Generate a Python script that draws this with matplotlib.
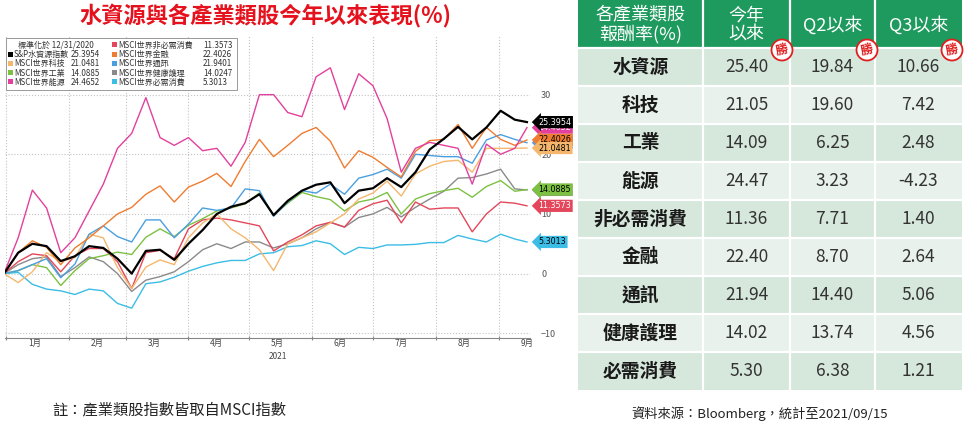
import matplotlib.pyplot as plt
import matplotlib.dates as mdates
import matplotlib.ticker as mticker
import numpy as np
import pandas as pd
from matplotlib.patches import Rectangle, Circle

plt.rcParams['font.family'] = ['Noto Sans CJK TC', 'DejaVu Sans']

# 週資料（2020/12/31 標準化為 0），最後一點為 2021/09/15
dates = list(pd.date_range('2020-12-31', periods=37, freq='7D')) + [pd.Timestamp('2021-09-15')]

water = [0, 3.5, 5, 4.6, 2.1, 2.9, 4.6, 4.3, 2.5, 0, 3.8, 4.0, 2.3, 5, 7.3, 10, 11.2, 11.8, 13.3,
         9.8, 12.2, 13.9, 14.9, 15.3, 11.8, 13.9, 14.3, 16, 14.5, 17, 20.8, 22.6, 24.6, 22.5, 24.5,
         27.3, 25.8, 25.40]
tech = [0, -1.5, 0.3, 3.5, 2, 2.7, 6.6, 6, 1, -2.5, 1.1, 2.3, 1.5, 6, 8.5, 10, 7.5, 6, 4, 0.5, 5,
        6, 7, 8.5, 10, 12.5, 13.5, 15.5, 13, 16.7, 18, 18.8, 19, 17, 21, 21, 21, 21.05]
industrial = [0, 0.5, 1.5, 1, -2, 0.5, 2.5, 3, 3.6, 3.2, 6.1, 7.5, 6.2, 8.1, 9.2, 10.5, 11, 11.7,
              13.5, 9.8, 11.8, 13.6, 12.9, 12.4, 10.5, 12, 12.5, 13.6, 10, 12.5, 13.4, 13.9, 14.3,
              12.8, 14.6, 15.6, 13.8, 14.09]
energy = [0, 6, 14, 11, 3.5, 6, 10.5, 15, 21, 23.5, 29.5, 22.8, 21.5, 22.8, 20.6, 21, 18, 22, 30,
          30, 27, 26.3, 33, 34.5, 27.5, 33.5, 31.5, 26, 17, 21, 22, 21.5, 21, 15, 21.7, 20, 21, 24.47]
discretionary = [0, 2, 3.3, 3, 0.3, 3, 4.2, 4.2, 2, -2.5, 3.5, 3.9, 2.5, 7.5, 9, 9.3, 9, 8.5, 8,
                 3.8, 5.3, 6.5, 8, 8.6, 7.8, 10.6, 11.7, 12.3, 8.5, 12, 10.8, 11, 11, 7, 10, 12,
                 11.8, 11.36]
financials = [0, 3.5, 5.5, 4.4, 1.5, 4.3, 6, 8, 10, 11.1, 13.3, 14.7, 12, 14.5, 15.5, 16.8, 14.6,
              18.8, 22.5, 19.6, 21.5, 23.5, 24.5, 22.2, 17.7, 20.6, 19.5, 17.8, 16.2, 20.5, 22.3,
              22.5, 25, 21, 24.5, 22.5, 21.5, 22.40]
comm = [0, 0.5, 1.5, 2.5, -0.7, 1.6, 6.6, 8, 6.2, 5.3, 9, 9, 6, 8.3, 11, 10.6, 11, 14.2, 13.9,
        9.6, 12, 13.9, 13.5, 15, 13.3, 16, 16.6, 17.5, 16, 20, 19.8, 19.6, 19.6, 18.5, 22.4, 23.3,
        22.5, 21.94]
health = [0, 1.5, 2.5, 2.8, -0.5, 1, 2.8, 2, 0, -3, -1.1, -0.5, 0.3, 2, 4, 5, 4.2, 5.3, 5.3, 4.3,
          5, 6, 7.5, 8.6, 7.8, 9.4, 10, 11.1, 9.5, 11.1, 12.5, 13.8, 16, 16.1, 16.7, 17.5, 14.2,
          14.02]
staples = [0, 0.2, -1.8, -2.6, -2.9, -3.5, -2.6, -2.9, -5, -5.8, -1.7, -1.4, -0.6, 0.4, 1.2, 1.8,
           2.2, 2.2, 3.3, 3.5, 4.5, 4.7, 5.5, 5, 3.2, 4.4, 4.2, 4.8, 4.8, 4.9, 5.2, 5.2, 6.4, 5.8,
           5.3, 6.6, 5.8, 5.30]

legend_left = ['S&P水資源指數', 'MSCI世界科技', 'MSCI世界工業', 'MSCI世界能源']
legend_right = ['MSCI世界非必需消費', 'MSCI世界金融', 'MSCI世界通訊', 'MSCI世界健康護理', 'MSCI世界必需消費']
last_left = ['25.3954', '21.0481', '14.0885', '24.4652']
last_right = ['11.3573', '22.4026', '21.9401', '14.0247', '5.3013']

# 表格
row_names = ['水資源', '科技', '工業', '能源', '非必需消費', '金融', '通訊', '健康護理', '必需消費']
ytd = ['25.40', '21.05', '14.09', '24.47', '11.36', '22.40', '21.94', '14.02', '5.30']
since_q2 = ['19.84', '19.60', '6.25', '3.23', '7.71', '8.70', '14.40', '13.74', '6.38']
since_q3 = ['10.66', '7.42', '2.48', '-4.23', '1.40', '2.64', '5.06', '4.56', '1.21']

# 顏色 / 繪圖順序
series = [
    ('staples', staples, '#3bbde6', 'k', 5.3013, 3),
    ('health', health, '#8a8a8a', 'white', 14.0247, 3),
    ('discretionary', discretionary, '#e4475b', 'white', 11.3573, 6),
    ('industrial', industrial, '#7cc142', 'k', 14.0885, 6),
    ('tech', tech, '#f5b76e', 'k', 21.0481, 6),
    ('comm', comm, '#4a9fe0', 'white', 21.9401, 3),
    ('financials', financials, '#ee7d31', 'k', 22.4026, 5),
    ('energy', energy, '#e2409c', 'white', 24.4652, 4),
    ('water', water, '#000000', 'white', 25.3954, 7),
]
colors = {name: c for name, _, c, _, _, _ in series}
left_colors = [colors['water'], colors['tech'], colors['industrial'], colors['energy']]
right_colors = [colors['discretionary'], colors['financials'], colors['comm'], colors['health'],
                colors['staples']]

fig = plt.figure(figsize=(9.71, 4.24), dpi=100)
ax = fig.add_axes([5 / 971, 1 - 338 / 424, 525 / 971, (338 - 35) / 424])

for name, vals, c, tc, last, z in series:
    lw = 1.6 if name == 'water' else 1.0
    ax.plot(dates, vals, color=c, lw=lw, zorder=3 if name == 'water' else 2)
    ax.annotate(f'{last:.4f}', xy=(1.0, last), xycoords=('axes fraction', 'data'),
                xytext=(6, 0), textcoords='offset points', ha='left', va='center',
                fontsize=5.8, color=tc, family=['DejaVu Sans'], annotation_clip=False,
                zorder=z + 10,
                bbox=dict(boxstyle='larrow,pad=0.2', fc=c, ec='none'))

ax.set_xlim(pd.Timestamp('2020-12-31 12:00'), pd.Timestamp('2021-09-16 12:00'))
ax.set_ylim(-10.8, 40)
ax.xaxis.set_major_locator(mdates.MonthLocator())
ax.xaxis.set_major_formatter(mticker.NullFormatter())
ax.xaxis.set_minor_locator(mdates.MonthLocator(bymonthday=15))
ax.xaxis.set_minor_formatter(mticker.FuncFormatter(lambda v, p: f'{mdates.num2date(v).month}月'))
ax.tick_params(axis='x', which='major', length=3, color='#888', direction='inout')
ax.tick_params(axis='x', which='minor', length=0, labelsize=6, labelcolor='#444', pad=1)
ax.yaxis.tick_right()
ax.set_yticks([-10, 0, 10, 20, 30])
ax.tick_params(axis='y', length=0, labelsize=6.5, labelcolor='#555', pad=8)
ax.grid(True, which='major', ls=':', color='#c4c4c4', lw=0.8)
for s in ['top', 'left', 'right']:
    ax.spines[s].set_visible(False)
ax.spines['bottom'].set_color('#888')
ax.text(pd.Timestamp('2021-05-15'), -0.045, '2021', transform=ax.get_xaxis_transform(),
        ha='center', va='top', fontsize=6, color='#444')

# 覆蓋層（像素座標）
ov = fig.add_axes([0, 0, 1, 1])
ov.set_xlim(0, 971)
ov.set_ylim(424, 0)
ov.axis('off')

ov.text(266, 16, '水資源與各產業類股今年以來表現(%)', ha='center', va='center',
        fontsize=16, fontweight='bold', color='#e5121d')

# 圖例
ov.add_patch(Rectangle((6, 38), 231, 52, fc='white', ec='#999', lw=0.7))
fs = 5.8
ov.text(18, 45, '標準化於 12/31/2020', ha='left', va='center', fontsize=fs, color='#333')
for i, (lab, val, c) in enumerate(zip(legend_left, last_left, left_colors)):
    y = 54.5 + i * 9.3
    ov.add_patch(Rectangle((8, y - 3), 5, 5, fc=c, ec='none'))
    ov.text(14, y, lab, ha='left', va='center', fontsize=fs, color='#333')
    ov.text(100, y, val, ha='right', va='center', fontsize=fs, color='#333')
for i, (lab, val, c) in enumerate(zip(legend_right, last_right, right_colors)):
    y = 45.2 + i * 9.3
    ov.add_patch(Rectangle((112, y - 3), 5, 5, fc=c, ec='none'))
    ov.text(118, y, lab, ha='left', va='center', fontsize=fs, color='#333')
    ov.text(203, y, val, ha='left', va='center', fontsize=fs, color='#333')

# 表格
col_x = [578, 703, 790, 875, 962]
head_h = 48
row_h = (390 - head_h) / len(row_names)
green = '#1f9a5e'
ov.add_patch(Rectangle((col_x[0], 0), col_x[-1] - col_x[0], head_h, fc=green, ec='none'))
heads = ['各產業類股\n報酬率(%)', '今年\n以來', 'Q2以來', 'Q3以來']
for j, h in enumerate(heads):
    cx = (col_x[j] + col_x[j + 1]) / 2
    ov.text(cx, head_h / 2 + 1, h, ha='center', va='center', fontsize=13, color='white',
            linespacing=1.05)
for i, name in enumerate(row_names):
    y0 = head_h + i * row_h
    fc = '#d6e7dc' if i % 2 == 0 else '#e8f1eb'
    ov.add_patch(Rectangle((col_x[0], y0), col_x[-1] - col_x[0], row_h, fc=fc, ec='none'))
    cells = [name, ytd[i], since_q2[i], since_q3[i]]
    for j, t in enumerate(cells):
        cx = (col_x[j] + col_x[j + 1]) / 2
        if j == 0:
            ov.text(cx, y0 + row_h / 2, t, ha='center', va='center', fontsize=13.5,
                    fontweight='bold', color='#1a1a1a')
        else:
            ov.text(cx, y0 + row_h / 2, t, ha='center', va='center', fontsize=12.5,
                    color='#333')
    ov.plot([col_x[0], col_x[-1]], [y0, y0], color='white', lw=1.6)
for x in col_x[1:-1]:
    ov.plot([x, x], [0, 390], color='white', lw=1.6)

# 勝 印章
for x in [782, 867, 952]:
    ov.add_patch(Circle((x, 50), 10.5, fc='white', ec='#e02020', lw=1.3, zorder=5))
    ov.text(x, 50.5, '勝', ha='center', va='center', fontsize=9, fontweight='bold',
            color='#e02020', rotation=12, zorder=6)

ov.text(52, 410, '註：產業類股指數皆取自MSCI指數', ha='left', va='center', fontsize=11, color='#222')
ov.text(760, 414, '資料來源：Bloomberg，統計至2021/09/15', ha='center', va='center',
        fontsize=9.5, color='#222')

fig.savefig('out.png', dpi=100)
